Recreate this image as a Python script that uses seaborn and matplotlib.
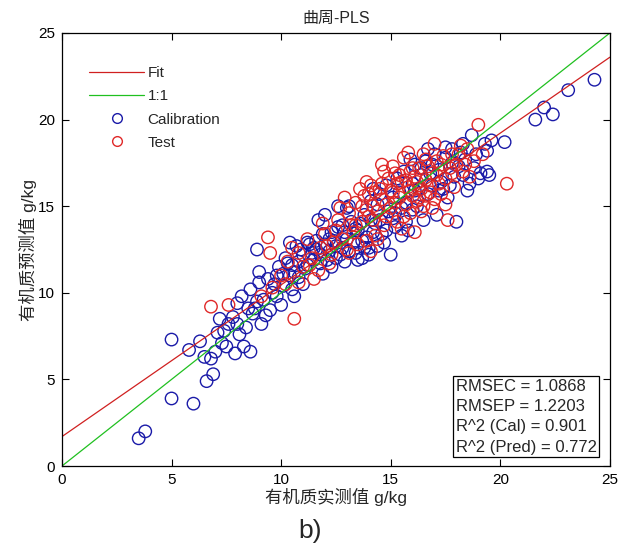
import matplotlib
matplotlib.use("Agg")
import matplotlib.pyplot as plt
import seaborn as sns
import pandas as pd
from matplotlib.lines import Line2D

sns.set_theme(style="white")
plt.rcParams['font.family'] = ['Liberation Sans', 'Noto Sans CJK SC', 'DejaVu Sans']

cal_x = [3.5, 3.8, 5.0, 6.0, 5.0, 6.6, 6.9, 5.8, 6.3, 6.5, 6.8, 7.0, 7.1, 7.3, 7.5, 7.6, 7.2, 7.8, 8.0, 8.1,
         8.3, 8.6, 7.9, 8.4, 8.5, 8.7, 8.2, 8.6, 8.9, 9.0, 8.9, 9.3, 9.1, 9.5, 9.7, 9.4, 9.8, 9.9, 10.1, 10.3,
         9.6, 10.0, 10.4, 10.6, 10.8, 11.0, 11.2, 10.9, 11.4, 11.6, 11.5, 11.8, 11.9, 12.0, 12.2, 12.3, 11.7, 12.5, 12.6, 12.8,
         12.9, 13.0, 13.2, 13.4, 13.1, 13.5, 13.7, 13.8, 13.9, 14.0, 14.1, 14.3, 14.4, 14.5, 14.6, 14.8, 14.9, 15.0, 15.1, 15.2,
         15.3, 15.5, 15.6, 15.7, 15.8, 16.0, 16.1, 16.2, 16.4, 16.5, 16.6, 16.7, 16.9, 17.0, 17.1, 17.2, 17.4, 17.5, 17.6, 17.8,
         17.9, 18.0, 18.2, 18.3, 18.4, 18.5, 18.7, 18.8, 19.0, 19.1, 19.3, 19.4, 19.5, 19.6, 20.2, 21.6, 22.0, 22.4, 23.1, 24.3,
         10.2, 10.5, 10.7, 11.1, 11.3, 11.6, 11.9, 12.1, 12.4, 12.7, 12.9, 13.3, 13.6, 13.8, 14.2, 14.5, 14.7, 15.2, 15.5, 16.0,
         16.3, 16.8, 17.3, 17.7, 18.1, 18.6, 14.0, 13.5, 12.0, 12.3, 11.0, 10.5, 9.2, 9.0, 8.8, 15.9, 16.7, 17.5, 13.0, 14.2, 12.6,
         10.1, 10.4, 10.8, 11.2, 11.5, 11.8, 12.2, 12.5, 12.8, 13.1, 13.4, 13.7, 14.1, 14.4, 14.8, 15.1, 15.4, 15.7, 16.1, 16.4,
         16.9, 17.2, 17.8, 18.3, 18.9, 19.4, 9.8, 10.6, 8.0, 7.4]
cal_y = [1.6, 2.0, 3.9, 3.6, 7.3, 4.9, 5.3, 6.7, 7.2, 6.3, 6.2, 6.6, 7.7, 7.1, 6.9, 8.2, 8.5, 8.6, 9.4, 7.6,
         6.9, 6.6, 6.5, 8.0, 9.1, 8.8, 9.8, 10.2, 9.5, 11.2, 12.5, 8.7, 8.2, 9.0, 10.5, 10.8, 9.8, 11.5, 10.4, 11.7,
         10.0, 9.3, 12.9, 11.2, 10.9, 12.2, 11.6, 12.5, 12.3, 13.0, 11.9, 12.2, 11.1, 12.8, 12.4, 13.5, 14.2, 12.0, 13.8, 12.6,
         11.8, 13.1, 14.1, 12.3, 15.0, 13.6, 12.0, 14.5, 13.2, 12.2, 15.3, 14.0, 12.7, 15.7, 13.4, 16.2, 14.7, 12.2, 15.5, 13.8,
         16.6, 14.9, 17.0, 15.2, 13.6, 16.3, 17.4, 15.0, 16.8, 14.2, 17.6, 15.7, 16.2, 18.0, 14.5, 17.1, 16.0, 18.4, 15.5, 17.5,
         16.7, 14.1, 18.1, 16.8, 17.7, 15.9, 19.1, 17.2, 16.6, 16.9, 18.6, 17.0, 16.8, 18.8, 18.7, 20.0, 20.7, 20.3, 21.7, 22.3,
         12.0, 11.6, 12.7, 11.4, 12.8, 12.5, 13.4, 11.9, 13.0, 12.2, 13.5, 12.9, 14.0, 12.6, 13.5, 14.2, 12.9, 14.6, 13.3, 14.8,
         16.0, 16.9, 16.4, 16.2, 17.3, 16.3, 12.6, 11.9, 14.5, 11.5, 10.5, 10.2, 9.6, 10.6, 9.1, 17.7, 18.3, 17.8, 14.9, 16.0, 15.0,
         11.1, 11.0, 11.8, 12.9, 12.6, 11.7, 13.1, 12.7, 13.9, 12.4, 13.7, 13.0, 14.2, 15.1, 13.6, 14.3, 15.8, 14.1, 15.9, 17.2,
         17.4, 15.9, 18.3, 18.6, 18.0, 18.2, 11.0, 9.8, 8.2, 7.8]

test_x = [6.8, 7.6, 9.4, 9.5, 10.6, 9.6, 9.1, 10.0, 10.3, 10.5, 10.8, 11.0, 11.2, 11.4, 11.5, 11.8, 12.0, 12.2, 12.4, 12.6,
          12.8, 13.0, 13.1, 13.3, 13.4, 13.5, 13.7, 13.8, 13.9, 14.0, 14.1, 14.2, 14.3, 14.4, 14.5, 14.6, 14.7, 14.8, 14.9, 15.0,
          15.1, 15.2, 15.3, 15.4, 15.5, 15.6, 15.7, 15.8, 15.9, 16.0, 16.1, 16.2, 16.3, 16.4, 16.5, 16.6, 16.7, 16.8, 16.9, 17.0,
          17.1, 17.2, 17.3, 17.4, 17.5, 17.7, 17.8, 17.9, 18.0, 18.2, 18.3, 18.5, 18.6, 18.8, 19.0, 19.2, 20.3, 17.6, 16.1, 14.1,
          13.2, 12.9, 15.6, 16.9, 15.1, 14.6, 13.6, 12.3, 11.7, 15.9, 16.5, 17.0, 14.3, 15.3, 16.6, 13.9,
          13.4, 13.7, 14.0, 14.2, 14.4, 14.6, 14.8, 15.0, 15.2, 15.4, 15.5, 15.7, 15.9, 16.0, 16.2, 16.4, 16.6, 16.8, 17.1, 17.3,
          17.5, 17.8, 18.1, 18.4, 12.5, 12.1, 11.3, 10.8, 13.1, 12.7, 13.9, 14.7, 15.8, 16.3, 11.9, 10.2]
test_y = [9.2, 9.3, 13.2, 12.3, 8.5, 10.3, 9.8, 11.0, 11.8, 12.6, 10.6, 11.5, 13.1, 12.0, 10.8, 12.6, 13.4, 11.7, 12.9, 14.2,
          13.1, 12.5, 14.6, 13.5, 15.2, 12.8, 14.1, 15.6, 13.0, 14.4, 16.2, 15.0, 13.3, 14.7, 16.0, 15.4, 13.9, 15.1, 16.6, 14.9,
          15.8, 16.9, 14.1, 15.5, 16.4, 17.8, 15.1, 16.1, 14.6, 15.6, 16.7, 15.3, 17.2, 16.0, 15.0, 16.5, 17.3, 15.8, 16.9, 15.4,
          17.6, 16.3, 15.7, 17.9, 16.6, 17.2, 18.0, 16.1, 17.4, 18.5, 17.0, 18.3, 16.7, 17.6, 19.7, 18.0, 16.3, 14.2, 13.5, 12.4,
          13.9, 15.5, 14.4, 14.9, 17.3, 17.4, 16.0, 12.2, 11.3, 17.0, 18.0, 18.6, 15.8, 16.3, 15.6, 14.8,
          13.9, 15.0, 15.7, 14.2, 13.1, 16.3, 14.4, 15.9, 15.2, 16.8, 13.7, 16.5, 15.9, 17.2, 16.4, 14.7, 17.7, 16.2, 16.8, 17.4,
          15.1, 16.9, 18.0, 17.4, 13.6, 12.7, 11.6, 12.3, 12.3, 14.9, 16.4, 17.0, 18.1, 15.5, 14.0, 10.5]

fit_x = [0, 25]
fit_y = [1.7, 23.6]
one_x = [0, 25]
one_y = [0, 25]

stats_text = ["RMSEC = 1.0868", "RMSEP = 1.2203", "R^2 (Cal) = 0.901", "R^2 (Pred) = 0.772"]

cal_df = pd.DataFrame({"x": cal_x, "y": cal_y})
test_df = pd.DataFrame({"x": test_x, "y": test_y})
fit_df = pd.DataFrame({"x": fit_x, "y": fit_y})
one_df = pd.DataFrame({"x": one_x, "y": one_y})

BLUE = "#1a1aa8"
RED = "#e02828"
CJK = ['Liberation Sans', 'Noto Sans CJK SC', 'DejaVu Sans']

fig = plt.figure(figsize=(6.21, 5.5), dpi=100)
ax = fig.add_axes([0.0998, 0.1527, 0.8822, 0.7873])

sns.lineplot(data=fit_df, x="x", y="y", ax=ax, color="#d02020", lw=0.9)
sns.lineplot(data=one_df, x="x", y="y", ax=ax, color="#20c020", lw=0.9)
sns.scatterplot(data=cal_df, x="x", y="y", ax=ax, s=80, facecolors="none", edgecolor=BLUE, linewidth=1.0)
sns.scatterplot(data=test_df, x="x", y="y", ax=ax, s=80, facecolors="none", edgecolor=RED, linewidth=1.0)

ax.set_xlim(0, 25)
ax.set_ylim(0, 25)
ax.set_xticks([0, 5, 10, 15, 20, 25])
ax.set_yticks([0, 5, 10, 15, 20, 25])
ax.tick_params(direction="in", length=5, width=0.8, top=True, right=True, labelsize=11,
               bottom=True, left=True, colors="black", pad=5)
for s in ax.spines.values():
    s.set_color("black")
    s.set_linewidth(0.9)

ax.set_xlabel("有机质实测值 g/kg", fontsize=12.5, family=CJK, labelpad=1)
ax.set_ylabel("有机质预测值 g/kg", fontsize=12.5, family=CJK, labelpad=1)
ax.set_title("曲周-PLS", fontsize=11.5, family=CJK, pad=7)

handles = [Line2D([0], [0], color="#d02020", lw=0.9),
           Line2D([0], [0], color="#20c020", lw=0.9),
           Line2D([0], [0], ls="none", marker="o", mfc="none", mec=BLUE, ms=7),
           Line2D([0], [0], ls="none", marker="o", mfc="none", mec=RED, ms=7)]
ax.legend(handles, ["Fit", "1:1", "Calibration", "Test"], loc="upper left",
          bbox_to_anchor=(0.025, 0.955), frameon=False, fontsize=11, handlelength=3.6,
          handletextpad=0.2, labelspacing=0.6)

ax.text(0.719, 0.026, "\n".join(stats_text), transform=ax.transAxes, fontsize=12,
        va="bottom", ha="left", linespacing=1.45,
        bbox=dict(boxstyle="square,pad=0.15", fc="white", ec="black", lw=0.9))

fig.text(0.5, 0.035, "b)", ha="center", va="center", fontsize=19)

fig.savefig("out.png", dpi=100)
